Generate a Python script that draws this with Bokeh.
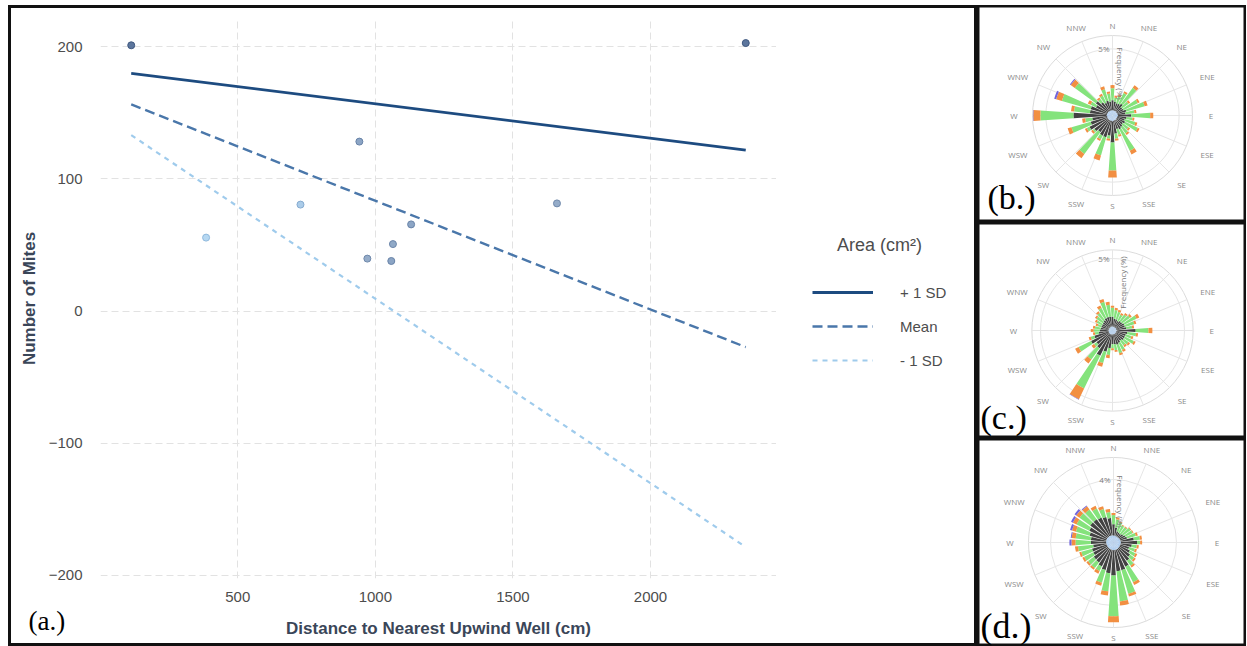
import math
from bokeh.plotting import figure
from bokeh.models import Range1d, FixedTicker, Legend, LegendItem, Spacer, ColumnDataSource
from bokeh.layouts import row, column
from bokeh.embed import file_html
from bokeh.resources import INLINE
from bokeh.core.properties import value

# ---------------- panel (a): data ----------------
distance = [113, 2346, 385, 728, 942, 971, 1064, 1058, 1130, 1660]
mites = [201.2, 202.9, 55.6, 80.6, 128.3, 39.7, 50.7, 37.9, 65.6, 81.5]
point_fill = ["#536f98", "#536f98", "#b2d6f1", "#a7c9e8", "#86a0c2", "#8fa8c6",
              "#8aa4c4", "#86a0c2", "#86a0c2", "#8fa8c6"]
point_line = ["#3f5880", "#3f5880", "#8fb9dd", "#86abd0", "#6883a8", "#7089ab",
              "#6c86aa", "#6883a8", "#6883a8", "#7089ab"]

line_x = [113, 2346]
plus_sd = [180.0, 121.9]
mean_line = [156.5, -27.3]
minus_sd = [133.2, -178.7]

x_ticks = [500, 1000, 1500, 2000]
y_ticks = [-200, -100, 0, 100, 200]
legend_labels = ["+ 1 SD", "Mean", "- 1 SD"]
legend_title = "Area (cm²)"
x_title = "Distance to Nearest Upwind Well (cm)"
y_title = "Number of Mites"

# ---------------- wind roses: data (frequency %, stacked by speed class) ----------------
dirs = [0, 10, 20, 30, 40, 50, 60, 70, 80, 90, 100, 110, 120, 130, 140, 150, 160, 170,
        180, 190, 200, 210, 220, 230, 240, 250, 260, 270, 280, 290, 300, 310, 320, 330, 340, 350]
compass = ["N", "NNE", "NE", "ENE", "E", "ESE", "SE", "SSE",
           "S", "SSW", "SW", "WSW", "W", "WNW", "NW", "NNW"]

b_calm = [0.40, 0.38, 0.36, 0.38, 0.40, 0.36, 0.38, 0.40, 0.38, 0.42, 0.38, 0.36, 0.38, 0.36, 0.38, 0.40, 0.38, 0.40,
          0.45, 0.40, 0.42, 0.40, 0.42, 0.40, 0.42, 0.42, 0.40, 0.45, 0.42, 0.42, 0.40, 0.42, 0.40, 0.38, 0.40, 0.38]
b_dark = [0.75, 0.68, 0.60, 0.60, 0.68, 0.53, 0.53, 0.68, 0.60, 0.98, 0.68, 0.60, 0.68, 0.60, 0.68, 0.75, 0.68, 0.98,
          1.58, 1.13, 1.28, 1.28, 1.13, 1.28, 1.50, 1.28, 1.13, 2.48, 1.28, 1.28, 0.98, 1.13, 0.83, 0.68, 0.75, 0.68]
b_green = [0.90, 0.30, 0.53, 0.90, 1.50, 0.60, 1.20, 1.43, 0.68, 1.43, 0.45, 0.83, 1.05, 0.53, 0.60, 1.80, 0.45, 0.38,
           2.10, 0.23, 1.43, 0.30, 2.03, 0.15, 0.23, 1.50, 0.53, 2.48, 1.20, 2.25, 0.45, 1.95, 0.30, 0.60, 0.90, 0.60]
b_orange = [0.23, 0.15, 0.15, 0.15, 0.23, 0.15, 0.15, 0.23, 0.15, 0.23, 0.15, 0.15, 0.15, 0.15, 0.15, 0.30, 0.15, 0.15,
            0.53, 0.15, 0.38, 0.15, 0.38, 0.15, 0.15, 0.30, 0.23, 0.53, 0.23, 0.45, 0.23, 0.38, 0.15, 0.15, 0.23, 0.15]
b_purple = [0, 0, 0, 0, 0, 0, 0, 0, 0, 0, 0, 0, 0, 0, 0, 0, 0, 0,
            0, 0, 0, 0, 0, 0, 0, 0, 0, 0.03, 0, 0.15, 0, 0.08, 0, 0, 0, 0]

c_calm = [0.27, 0.27, 0.26, 0.26, 0.27, 0.27, 0.28, 0.27, 0.27, 0.30, 0.27, 0.27, 0.27, 0.27, 0.26, 0.27, 0.27, 0.27,
          0.27, 0.28, 0.29, 0.30, 0.29, 0.28, 0.29, 0.28, 0.27, 0.27, 0.27, 0.26, 0.26, 0.27, 0.27, 0.28, 0.28, 0.28]
c_dark = [0.69, 0.55, 0.55, 0.48, 0.55, 0.55, 0.62, 0.62, 0.69, 1.31, 0.76, 0.69, 0.69, 0.69, 0.62, 0.69, 0.76, 0.69,
          0.69, 0.96, 1.24, 1.65, 1.24, 1.10, 1.37, 1.03, 0.69, 0.62, 0.55, 0.55, 0.55, 0.55, 0.62, 0.69, 0.69, 0.69]
c_green = [0.62, 0.62, 0.55, 0.48, 0.55, 0.69, 0.96, 0.69, 0.41, 0.89, 0.62, 0.41, 0.69, 0.41, 0.41, 0.55, 0.62, 0.41,
           0.27, 0.48, 0.82, 2.54, 0.96, 0.21, 0.96, 0.27, 0.27, 0.41, 0.41, 0.27, 0.41, 0.55, 0.62, 0.76, 1.10, 0.82]
c_orange = [0.14, 0.14, 0.14, 0.14, 0.14, 0.14, 0.21, 0.14, 0.14, 0.27, 0.14, 0.14, 0.14, 0.14, 0.14, 0.14, 0.14, 0.14,
            0.14, 0.21, 0.27, 0.82, 0.34, 0.21, 0.27, 0.14, 0.14, 0.21, 0.14, 0.14, 0.14, 0.14, 0.14, 0.21, 0.21, 0.21]
c_purple = [0, 0, 0, 0, 0, 0, 0, 0, 0, 0, 0, 0, 0, 0, 0, 0, 0, 0,
            0, 0, 0, 0.04, 0, 0, 0, 0, 0, 0, 0, 0, 0, 0, 0, 0, 0, 0]

d_calm = [0.45, 0.44, 0.43, 0.42, 0.42, 0.43, 0.44, 0.45, 0.46, 0.47, 0.46, 0.45, 0.45, 0.46, 0.47, 0.48, 0.48, 0.48,
          0.49, 0.48, 0.47, 0.46, 0.46, 0.45, 0.45, 0.45, 0.46, 0.47, 0.47, 0.48, 0.48, 0.48, 0.47, 0.47, 0.46, 0.46]
d_dark = [0.71, 0.52, 0.32, 0.26, 0.26, 0.32, 0.39, 0.45, 0.84, 1.03, 0.71, 0.58, 0.71, 0.84, 0.97, 1.23, 1.35, 1.35,
          1.61, 1.48, 1.35, 1.23, 1.10, 1.10, 0.97, 0.97, 0.84, 0.97, 0.97, 1.10, 1.23, 1.35, 1.35, 1.29, 1.23, 1.10]
d_green = [0.58, 0.52, 0.58, 0.52, 0.52, 0.58, 0.52, 0.58, 0.39, 0.19, 0.32, 0.39, 0.39, 0.32, 0.39, 1.10, 1.55, 1.94,
           2.58, 1.16, 0.84, 0.32, 0.45, 0.45, 0.65, 0.71, 0.97, 0.97, 0.97, 0.90, 0.90, 0.84, 0.77, 0.65, 0.52, 0.39]
d_orange = [0.13, 0.13, 0.06, 0.06, 0.06, 0.06, 0.06, 0.13, 0.13, 0.13, 0.13, 0.13, 0.13, 0.13, 0.13, 0.19, 0.19, 0.26,
            0.39, 0.26, 0.19, 0.19, 0.13, 0.13, 0.13, 0.13, 0.19, 0.26, 0.26, 0.26, 0.26, 0.26, 0.26, 0.19, 0.19, 0.19]
d_purple = [0, 0, 0, 0, 0, 0, 0, 0, 0, 0, 0, 0, 0, 0, 0, 0, 0, 0,
            0, 0, 0, 0, 0, 0, 0, 0, 0, 0.13, 0.06, 0.13, 0.13, 0.13, 0.06, 0, 0, 0]

speed_colors = ["#a6c8ef", "#424242", "#84e37c", "#f28f42", "#7366dc"]

SANS = "Liberation Sans"
SERIF = "Liberation Serif"
BORDER = "3px solid #111111"
line_styles = [dict(line_color="#1d4b80", line_width=2.8),
               dict(line_color="#4a77aa", line_width=2.4, line_dash="10 5"),
               dict(line_color="#9fcbec", line_width=2.2, line_dash="5 5")]
line_series = [plus_sd, mean_line, minus_sd]


def no_frame_align(fig):
    try:
        fig.frame_align = False
    except Exception:
        pass


# ---------------- panel (a): main plot ----------------
p = figure(width=768, height=600,
           x_range=Range1d(1.35, 2457.7), y_range=Range1d(-202.5, 221.5),
           output_backend="svg", toolbar_location=None,
           min_border_left=89, min_border_right=3, min_border_top=10, min_border_bottom=30,
           styles={"border-top": BORDER, "border-left": BORDER})
no_frame_align(p)
p.outline_line_color = None
p.background_fill_color = "white"
p.border_fill_color = "white"

for g in (p.xgrid, p.ygrid):
    g.grid_line_color = "#e2e2e2"
    g.grid_line_dash = "7 4"
    g.grid_line_width = 1
p.xgrid.ticker = FixedTicker(ticks=x_ticks)
p.ygrid.ticker = FixedTicker(ticks=y_ticks)
p.xaxis.ticker = FixedTicker(ticks=x_ticks)
p.yaxis.ticker = FixedTicker(ticks=y_ticks)

for ax in (p.xaxis, p.yaxis):
    ax.axis_line_color = None
    ax.major_tick_line_color = None
    ax.minor_tick_line_color = None
    ax.major_tick_out = 0
    ax.major_tick_in = 0
    ax.major_label_text_font = SANS
    ax.major_label_text_font_size = "15px"
    ax.major_label_text_color = "#4d4d4d"
    ax.axis_label_text_font = SANS
    ax.axis_label_text_font_size = "17px"
    ax.axis_label_text_font_style = "bold"
    ax.axis_label_text_color = "#3a4658"
p.xaxis.major_label_standoff = 13
p.yaxis.major_label_standoff = 18
p.yaxis.axis_label = y_title
p.yaxis.axis_label_standoff = 7

for ys, st in zip(line_series, line_styles):
    p.line(line_x, ys, **st)

pts = ColumnDataSource(dict(x=distance, y=mites, fc=point_fill, lc=point_line))
p.scatter("x", "y", source=pts, size=7, fill_color="fc", line_color="lc", line_width=1, fill_alpha=0.95)

# ---------------- panel (a): legend area ----------------
# Same line series drawn in a side figure whose ranges keep them out of view;
# they only serve as the legend's glyph sources.
pl = figure(width=201, height=600, x_range=Range1d(0, 1), y_range=Range1d(0, 1),
            output_backend="svg", toolbar_location=None,
            x_axis_type=None, y_axis_type=None, min_border=0,
            styles={"border-top": BORDER, "border-right": BORDER})
no_frame_align(pl)
pl.outline_line_color = None
leg_renderers = [pl.line(line_x, ys, **st) for ys, st in zip(line_series, line_styles)]
legend = Legend(items=[LegendItem(label=lab, renderers=[rr]) for lab, rr in zip(legend_labels, leg_renderers)],
                location=(26, 221), padding=10, margin=0, spacing=0,
                title="\u00a0\u00a0\u00a0\u00a0\u00a0" + legend_title,
                title_text_font=SANS, title_text_font_size="18px", title_text_color="#4d4d4d",
                title_text_font_style="normal", title_standoff=19,
                glyph_width=61, glyph_height=34, label_height=34, label_standoff=27,
                label_text_font=SANS, label_text_font_size="15px", label_text_color="#4d4d4d",
                background_fill_alpha=0, border_line_alpha=0)
pl.add_layout(legend)

# ---------------- panel (a): bottom strip (x title and panel tag) ----------------
strip = figure(width=969, height=41, x_range=Range1d(0, 969), y_range=Range1d(0, 41),
               output_backend="svg", toolbar_location=None,
               x_axis_type=None, y_axis_type=None, min_border=0,
               styles={"border-bottom": BORDER, "border-left": BORDER, "border-right": BORDER})
no_frame_align(strip)
strip.outline_line_color = None
strip.text(x=[427], y=[18], text=[x_title], text_align="center", text_baseline="middle",
           text_font=value(SANS), text_font_size="17px", text_font_style="bold",
           text_color="#3a4658")
strip.text(x=[17], y=[26], text=["(a.)"], text_align="left", text_baseline="middle",
           text_font=value(SERIF), text_font_size="27px", text_color="black")


# ---------------- wind rose panels ----------------
def make_rose(w, h, cx, cy, scale, rmax, ring_tick, tick_text, segs,
              freq_dx, freq_dy, freq_angle, panel_text, lab_x, lab_mid, lab_size):
    r = figure(width=w, height=h, output_backend="svg", toolbar_location=None,
               x_range=Range1d(-cx / scale, (w - cx) / scale),
               y_range=Range1d(-(h - cy) / scale, cy / scale),
               x_axis_type=None, y_axis_type=None, min_border=0)
    no_frame_align(r)
    r.outline_line_color = "#111111"
    r.outline_line_width = 4
    r.background_fill_color = "white"
    r.border_fill_color = "white"

    # grid: rings and 16 spokes
    r.circle(x=[0, 0], y=[0, 0], radius=[ring_tick, rmax], fill_color=None,
             line_color=["#e6e6e6", "#dcdcdc"], line_width=1)
    ang = [math.radians(22.5 * i) for i in range(len(compass))]
    r.segment(x0=[0] * len(ang), y0=[0] * len(ang),
              x1=[rmax * math.sin(a) for a in ang], y1=[rmax * math.cos(a) for a in ang],
              line_color="#e6e6e6", line_width=1)

    # stacked bars
    half = math.radians(4.0)
    starts = [math.pi / 2 - math.radians(d) - half for d in dirs]
    ends = [math.pi / 2 - math.radians(d) + half for d in dirs]
    base = [0.0] * len(dirs)
    for seg, col in zip(segs, speed_colors):
        top = [b + s for b, s in zip(base, seg)]
        src = ColumnDataSource(dict(inner=base, outer=top, start=starts, end=ends))
        r.annular_wedge(x=0, y=0, inner_radius="inner", outer_radius="outer",
                        start_angle="start", end_angle="end", source=src,
                        fill_color=col, line_color=None)
        base = top

    # compass labels
    outer_px = rmax * scale
    lx, ly = [], []
    for name, a in zip(compass, ang):
        rp = outer_px + 10 + abs(math.sin(a)) * (6 + 2.5 * len(name))
        lx.append(rp * math.sin(a) / scale)
        ly.append(rp * math.cos(a) / scale)
    r.text(x=lx, y=ly, text=compass, text_align="center", text_baseline="middle",
           text_font=value("Open Sans"), text_font_size="8px", text_color="#8a8a8a")
    r.text(x=[-3 / scale], y=[ring_tick], text=[tick_text], text_align="right",
           text_baseline="middle", text_font=value("Open Sans"), text_font_size="8px",
           text_color="#7a7a7a")
    r.text(x=[freq_dx / scale], y=[freq_dy / scale], text=["Frequency (%)"], angle=freq_angle,
           text_align="center", text_baseline="middle", text_font=value("Open Sans"),
           text_font_size="8px", text_color="#7a7a7a")
    r.text(x=[(lab_x - cx) / scale], y=[(cy - lab_mid) / scale], text=[panel_text],
           text_align="left", text_baseline="middle", text_font=value(SERIF),
           text_font_size=lab_size, text_color="black")
    return r


pb = make_rose(269, 217, 135, 110, 13.33, 6.0, 5, "5%",
               [b_calm, b_dark, b_green, b_orange, b_purple],
               8, 42, -math.pi / 2, "(b.)", 10, 192, "34px")
pc = make_rose(269, 216, 135, 108, 14.4, 5.6, 5, "5%",
               [c_calm, c_dark, c_green, c_orange, c_purple],
               10, 48, math.pi / 2, "(c.)", 3, 195, "34px")
pd = make_rose(269, 208, 136, 104, 15.75, 5.4, 4, "4%",
               [d_calm, d_dark, d_green, d_orange, d_purple],
               7, 41, -math.pi / 2, "(d.)", 3, 187, "36px")

left_panel = column(row(p, pl, spacing=0), strip, spacing=0)
roses = column(pb, pc, pd, spacing=0)
layout = column(Spacer(height=5), row(Spacer(width=8), left_panel, roses, spacing=0), spacing=0)

open("out.html", "w").write(file_html(layout, INLINE))
